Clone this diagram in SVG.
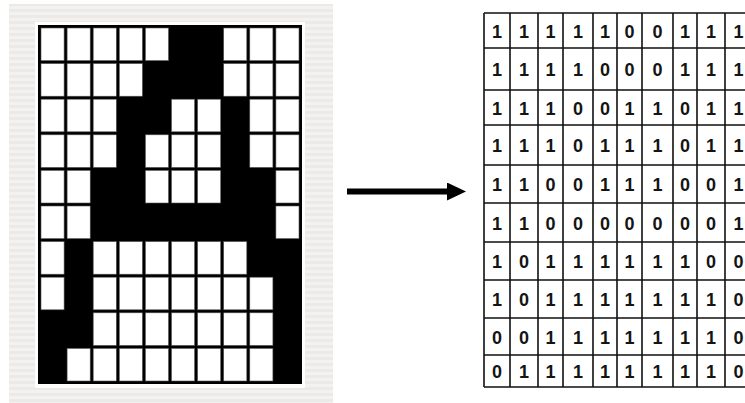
<svg xmlns="http://www.w3.org/2000/svg" xmlns:xlink="http://www.w3.org/1999/xlink" width="745" height="403" viewBox="0 0 745 403">
<style>
.d{font-family:"Liberation Sans",Arial,sans-serif;font-weight:bold;font-size:18px;fill:#141414;text-anchor:middle}
.gl{stroke:#111;stroke-width:1.6;fill:none}
</style>
<defs>
<pattern id="stripes" width="8" height="6" patternUnits="userSpaceOnUse">
<rect width="8" height="6" fill="#f3f2f0"/>
<rect y="3" width="8" height="3" fill="#ebeae8"/>
</pattern>
<rect id="c" width="23.1" height="32.6" fill="#fff" stroke="#555" stroke-width="0.6"/>
<marker id="ah" markerWidth="20" markerHeight="18" refX="2" refY="9" orient="auto" markerUnits="userSpaceOnUse" viewBox="0 0 20 18"><path d="M0,0 L19,9 L0,18 z" fill="#000"/></marker>
</defs>
<rect width="745" height="403" fill="#fff"/>
<g id="bitmap">
<rect x="9" y="4" width="324" height="399" fill="url(#stripes)"/>
<rect x="35" y="22" width="270" height="366" fill="#fff"/>
<rect x="38" y="25" width="264" height="359" fill="#000"/>
<!-- row 0: 1111100111 -->
<use xlink:href="#c" x="41" y="28"/><use xlink:href="#c" x="67.1" y="28"/><use xlink:href="#c" x="93.2" y="28"/><use xlink:href="#c" x="119.3" y="28"/><use xlink:href="#c" x="145.4" y="28"/><use xlink:href="#c" x="223.7" y="28"/><use xlink:href="#c" x="249.8" y="28"/><use xlink:href="#c" x="275.9" y="28"/>
<!-- row 1: 1111000111 -->
<use xlink:href="#c" x="41" y="63.6"/><use xlink:href="#c" x="67.1" y="63.6"/><use xlink:href="#c" x="93.2" y="63.6"/><use xlink:href="#c" x="119.3" y="63.6"/><use xlink:href="#c" x="223.7" y="63.6"/><use xlink:href="#c" x="249.8" y="63.6"/><use xlink:href="#c" x="275.9" y="63.6"/>
<!-- row 2: 1110011011 -->
<use xlink:href="#c" x="41" y="99.2"/><use xlink:href="#c" x="67.1" y="99.2"/><use xlink:href="#c" x="93.2" y="99.2"/><use xlink:href="#c" x="171.5" y="99.2"/><use xlink:href="#c" x="197.6" y="99.2"/><use xlink:href="#c" x="249.8" y="99.2"/><use xlink:href="#c" x="275.9" y="99.2"/>
<!-- row 3: 1110111011 -->
<use xlink:href="#c" x="41" y="134.8"/><use xlink:href="#c" x="67.1" y="134.8"/><use xlink:href="#c" x="93.2" y="134.8"/><use xlink:href="#c" x="145.4" y="134.8"/><use xlink:href="#c" x="171.5" y="134.8"/><use xlink:href="#c" x="197.6" y="134.8"/><use xlink:href="#c" x="249.8" y="134.8"/><use xlink:href="#c" x="275.9" y="134.8"/>
<!-- row 4: 1100111001 -->
<use xlink:href="#c" x="41" y="170.4"/><use xlink:href="#c" x="67.1" y="170.4"/><use xlink:href="#c" x="145.4" y="170.4"/><use xlink:href="#c" x="171.5" y="170.4"/><use xlink:href="#c" x="197.6" y="170.4"/><use xlink:href="#c" x="275.9" y="170.4"/>
<!-- row 5: 1100000001 -->
<use xlink:href="#c" x="41" y="206"/><use xlink:href="#c" x="67.1" y="206"/><use xlink:href="#c" x="275.9" y="206"/>
<!-- row 6: 1011111100 -->
<use xlink:href="#c" x="41" y="241.6"/><use xlink:href="#c" x="93.2" y="241.6"/><use xlink:href="#c" x="119.3" y="241.6"/><use xlink:href="#c" x="145.4" y="241.6"/><use xlink:href="#c" x="171.5" y="241.6"/><use xlink:href="#c" x="197.6" y="241.6"/><use xlink:href="#c" x="223.7" y="241.6"/>
<!-- row 7: 1011111110 -->
<use xlink:href="#c" x="41" y="277.2"/><use xlink:href="#c" x="93.2" y="277.2"/><use xlink:href="#c" x="119.3" y="277.2"/><use xlink:href="#c" x="145.4" y="277.2"/><use xlink:href="#c" x="171.5" y="277.2"/><use xlink:href="#c" x="197.6" y="277.2"/><use xlink:href="#c" x="223.7" y="277.2"/><use xlink:href="#c" x="249.8" y="277.2"/>
<!-- row 8: 0011111110 -->
<use xlink:href="#c" x="93.2" y="312.8"/><use xlink:href="#c" x="119.3" y="312.8"/><use xlink:href="#c" x="145.4" y="312.8"/><use xlink:href="#c" x="171.5" y="312.8"/><use xlink:href="#c" x="197.6" y="312.8"/><use xlink:href="#c" x="223.7" y="312.8"/><use xlink:href="#c" x="249.8" y="312.8"/>
<!-- row 9: 0111111110 -->
<use xlink:href="#c" x="67.1" y="348.4"/><use xlink:href="#c" x="93.2" y="348.4"/><use xlink:href="#c" x="119.3" y="348.4"/><use xlink:href="#c" x="145.4" y="348.4"/><use xlink:href="#c" x="171.5" y="348.4"/><use xlink:href="#c" x="197.6" y="348.4"/><use xlink:href="#c" x="223.7" y="348.4"/><use xlink:href="#c" x="249.8" y="348.4"/>
</g>
<g id="connectors">
<line x1="347" y1="191.5" x2="449" y2="191.5" stroke="#000" stroke-width="6" marker-end="url(#ah)"/>
</g>
<g id="matrix">
<rect x="484" y="13" width="270" height="374" fill="#fff"/>
<path class="gl" d="M484,13V387M510,13V387M538,13V387M563,13V387M593,13V387M617,13V387M642,13V387M673,13V387M697,13V387M725,13V387M752,13V387"/>
<path class="gl" d="M484,13H752M484,48H752M484,90H752M484,125H752M484,165H752M484,203H752M484,242H752M484,280H752M484,318H752M484,355H752M484,387H752"/>
<text class="d" y="37.5"><tspan x="497">1</tspan><tspan x="524">1</tspan><tspan x="550.5">1</tspan><tspan x="578">1</tspan><tspan x="605">1</tspan><tspan x="629.5">0</tspan><tspan x="657.5">0</tspan><tspan x="685">1</tspan><tspan x="711">1</tspan><tspan x="738.5">1</tspan></text>
<text class="d" y="76"><tspan x="497">1</tspan><tspan x="524">1</tspan><tspan x="550.5">1</tspan><tspan x="578">1</tspan><tspan x="605">0</tspan><tspan x="629.5">0</tspan><tspan x="657.5">0</tspan><tspan x="685">1</tspan><tspan x="711">1</tspan><tspan x="738.5">1</tspan></text>
<text class="d" y="114.5"><tspan x="497">1</tspan><tspan x="524">1</tspan><tspan x="550.5">1</tspan><tspan x="578">0</tspan><tspan x="605">0</tspan><tspan x="629.5">1</tspan><tspan x="657.5">1</tspan><tspan x="685">0</tspan><tspan x="711">1</tspan><tspan x="738.5">1</tspan></text>
<text class="d" y="152"><tspan x="497">1</tspan><tspan x="524">1</tspan><tspan x="550.5">1</tspan><tspan x="578">0</tspan><tspan x="605">1</tspan><tspan x="629.5">1</tspan><tspan x="657.5">1</tspan><tspan x="685">0</tspan><tspan x="711">1</tspan><tspan x="738.5">1</tspan></text>
<text class="d" y="191"><tspan x="497">1</tspan><tspan x="524">1</tspan><tspan x="550.5">0</tspan><tspan x="578">0</tspan><tspan x="605">1</tspan><tspan x="629.5">1</tspan><tspan x="657.5">1</tspan><tspan x="685">0</tspan><tspan x="711">0</tspan><tspan x="738.5">1</tspan></text>
<text class="d" y="229.5"><tspan x="497">1</tspan><tspan x="524">1</tspan><tspan x="550.5">0</tspan><tspan x="578">0</tspan><tspan x="605">0</tspan><tspan x="629.5">0</tspan><tspan x="657.5">0</tspan><tspan x="685">0</tspan><tspan x="711">0</tspan><tspan x="738.5">1</tspan></text>
<text class="d" y="268"><tspan x="497">1</tspan><tspan x="524">0</tspan><tspan x="550.5">1</tspan><tspan x="578">1</tspan><tspan x="605">1</tspan><tspan x="629.5">1</tspan><tspan x="657.5">1</tspan><tspan x="685">1</tspan><tspan x="711">0</tspan><tspan x="738.5">0</tspan></text>
<text class="d" y="306"><tspan x="497">1</tspan><tspan x="524">0</tspan><tspan x="550.5">1</tspan><tspan x="578">1</tspan><tspan x="605">1</tspan><tspan x="629.5">1</tspan><tspan x="657.5">1</tspan><tspan x="685">1</tspan><tspan x="711">1</tspan><tspan x="738.5">0</tspan></text>
<text class="d" y="343.5"><tspan x="497">0</tspan><tspan x="524">0</tspan><tspan x="550.5">1</tspan><tspan x="578">1</tspan><tspan x="605">1</tspan><tspan x="629.5">1</tspan><tspan x="657.5">1</tspan><tspan x="685">1</tspan><tspan x="711">1</tspan><tspan x="738.5">0</tspan></text>
<text class="d" y="378"><tspan x="497">0</tspan><tspan x="524">1</tspan><tspan x="550.5">1</tspan><tspan x="578">1</tspan><tspan x="605">1</tspan><tspan x="629.5">1</tspan><tspan x="657.5">1</tspan><tspan x="685">1</tspan><tspan x="711">1</tspan><tspan x="738.5">0</tspan></text>
</g>
</svg>
